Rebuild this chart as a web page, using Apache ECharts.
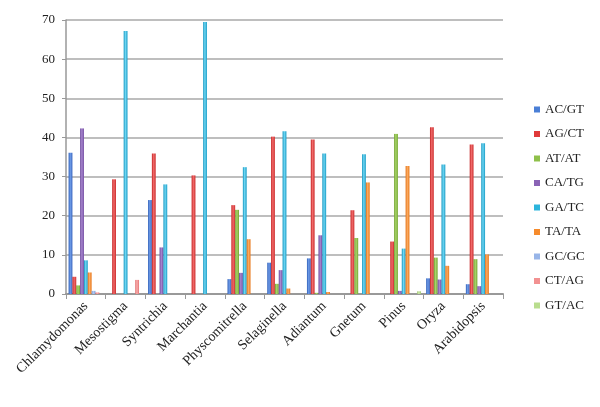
<!DOCTYPE html>
<html>
<head>
<meta charset="utf-8">
<script src="https://cdn.jsdelivr.net/npm/echarts@6/dist/echarts.min.js"></script>
<style>html,body{margin:0;padding:0;background:#fff;}#c{width:600px;height:407px;}</style>
</head>
<body>
<div id="c"></div>
<script>
var categories = ['Chlamydomonas','Mesostigma','Syntrichia','Marchantia','Physcomitrella','Selaginella','Adiantum','Gnetum','Pinus','Oryza','Arabidopsis'];
var seriesNames = ['AC/GT','AG/CT','AT/AT','CA/TG','GA/TC','TA/TA','GC/GC','CT/AG','GT/AC'];
var acgt = [36.1, 0, 24.0, 0, 3.8, 8.0, 9.1, 0, 0, 4.0, 2.5];
var agct = [4.4, 29.3, 35.9, 30.3, 22.7, 40.2, 39.5, 21.4, 13.4, 42.6, 38.2];
var atat = [2.2, 0, 0, 0, 21.5, 2.6, 0.3, 14.3, 40.9, 9.3, 8.9];
var catg = [42.3, 0, 11.9, 0, 5.4, 6.1, 15.0, 0, 0.8, 3.7, 2.0];
var gatc = [8.6, 67.2, 28.0, 69.5, 32.4, 41.6, 35.9, 35.7, 11.6, 33.1, 38.5];
var tata = [5.5, 0, 0, 0, 14.0, 1.4, 0.5, 28.5, 32.7, 7.2, 10.1];
var gcgc = [0.8, 0, 0, 0, 0, 0, 0, 0, 0, 0, 0];
var ctag = [0.4, 3.6, 0, 0, 0, 0, 0, 0, 0, 0, 0];
var gtac = [0, 0, 0, 0, 0, 0, 0, 0, 0.7, 0, 0];
var yTicks = [0, 10, 20, 30, 40, 50, 60, 70];

var allData = [acgt, agct, atat, catg, gatc, tata, gcgc, ctag, gtac];
var colors = [
  ['#2f5fb8','#6d9ae6','#3a66c0'],
  ['#c42323','#f06a6a','#cc2e2e'],
  ['#6ea02e','#a9d46a','#74a833'],
  ['#6b4699','#a988d0','#70499f'],
  ['#1495c0','#6fd6f2','#1a9cc6'],
  ['#e36f12','#fbab62','#e87618'],
  ['#7b9ad6','#b4cbf2','#809fda'],
  ['#e06d6d','#f9b0b0','#e47474'],
  ['#9cc56b','#cfe9ae','#a2ca72']
];
var legendColors = ['#4a7fd6','#e03a3a','#8fc04a','#8a63b5','#2cb5dc','#f68b2c','#98b5e8','#f29191','#b9dd8e'];

var series = seriesNames.map(function(n, i){
  return {
    name: n,
    type: 'bar',
    data: allData[i],
    barGap: '0%',
    barCategoryGap: '13%',
    itemStyle: {
      color: new echarts.graphic.LinearGradient(0,0,1,0,[
        {offset:0,color:colors[i][0]},
        {offset:0.45,color:colors[i][1]},
        {offset:1,color:colors[i][2]}
      ])
    }
  };
});

var chart = echarts.init(document.getElementById('c'), null, {renderer:'canvas'});
chart.setOption({
  animation: false,
  color: legendColors,
  grid: {left: 66, top: 20, width: 437, height: 274, containLabel: false},
  legend: {
    orient: 'vertical',
    left: 529,
    top: 97,
    itemWidth: 6,
    itemHeight: 6,
    itemGap: 9.5,
    icon: 'rect',
    textStyle: {fontFamily: 'Liberation Serif', fontSize: 13, color: '#222', lineHeight: 15},
    data: seriesNames.map(function(n,i){return {name:n, itemStyle:{color:legendColors[i]}};})
  },
  xAxis: {
    type: 'category',
    data: categories,
    axisLine: {show: true, lineStyle: {color: '#999', width: 2}},
    axisTick: {show: true, alignWithLabel: false, length: 5, lineStyle: {color: '#999'}},
    axisLabel: {rotate: 45, interval: 0, margin: 10, fontFamily: 'Liberation Serif', fontSize: 14, color: '#222'}
  },
  yAxis: {
    type: 'value',
    min: 0, max: 70, interval: 10,
    axisLine: {show: true, lineStyle: {color: '#999', width: 1.5}},
    axisTick: {show: true, length: 4, lineStyle: {color: '#999'}},
    axisLabel: {margin: 11, fontFamily: 'Liberation Serif', fontSize: 13, color: '#222',
      formatter: function(v){ return yTicks.indexOf(v) >= 0 ? String(v) : ''; }},
    splitLine: {show: true, lineStyle: {color: '#a8a8a8', width: 1.5}}
  },
  series: series
});
</script>
</body>
</html>
